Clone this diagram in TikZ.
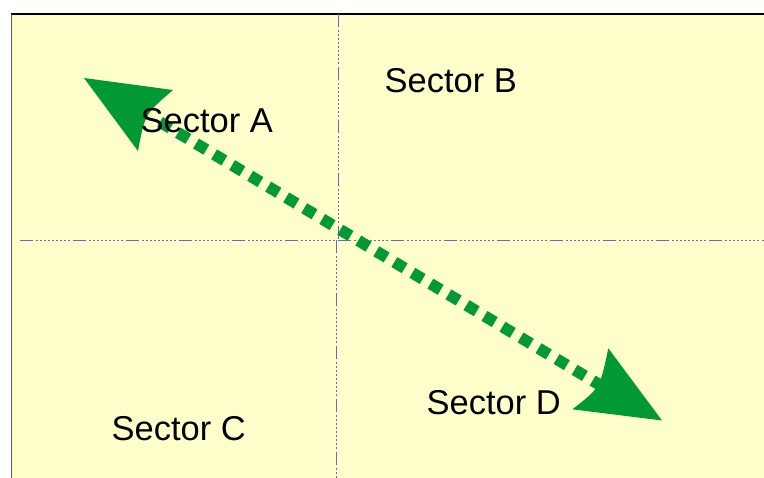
\documentclass[tikz,border=0pt]{standalone}
\usepackage{fontspec}
\setmainfont{Liberation Sans}
\definecolor{bgyellow}{HTML}{FFFFCC}
\definecolor{arrowgreen}{HTML}{009933}
\definecolor{guideblue}{HTML}{6666CC}
\begin{document}
\begin{tikzpicture}[x=1pt,y=-1pt,
  guide/.style={guideblue,line width=1.2pt,
    dash pattern=on 13pt off 3pt on 2pt off 2pt on 2pt off 2pt on 2pt off 2pt on 2pt off 2pt on 2pt off 2pt on 2pt off 2pt on 2pt off 2pt on 2pt off 2pt on 2pt off 3pt},
  dotline/.style={arrowgreen,line width=11.5pt,dash pattern=on 12pt off 9pt},
  headfill/.style={fill=arrowgreen,draw=none},
  label/.style={font=\fontsize{34.5}{40}\selectfont,anchor=base west,inner sep=0pt,text=black}]
\useasboundingbox (0,0) rectangle (764,478);
\fill[bgyellow] (11,14) rectangle (764,478);
\draw[black,line width=1.4pt] (11,14) -- (764,14);
\draw[gray!70!black,line width=1pt] (11,14) -- (11,478);
% guide lines
\coordinate (vtop) at (338.3,14);
\coordinate (vmid) at (338.3,240.3);
\coordinate (vmid2) at (336.7,240.3);
\coordinate (vbot) at (336.7,478);
\coordinate (hl) at (20,240.3);
\coordinate (hr) at (764,240.3);
\draw[guide] (vtop) -- (vmid);
\draw[guide] (vmid2) -- (vbot);
\draw[guide] (hl) -- (hr);
% arrow
\coordinate (tipA) at (84,78);
\coordinate (tipD) at (662,420.5);
\coordinate (baseA) at (160,122);
\coordinate (baseD) at (600,385);
\draw[dotline] (baseA) -- (baseD);
\fill[headfill] (tipA) -- (173,90) .. controls (145,114) .. (138,151) -- cycle;
\fill[headfill] (tipD) -- (572.3,409.3) .. controls (600,388) .. (608.3,348.3) -- cycle;
% labels
\node[label] (sa) at (140.5,133) {Sector A};
\node[label] (sb) at (384.5,93) {Sector B};
\node[label] (sc) at (111.5,441) {Sector C};
\node[label] (sd) at (426.5,415) {Sector D};
\end{tikzpicture}
\end{document}
